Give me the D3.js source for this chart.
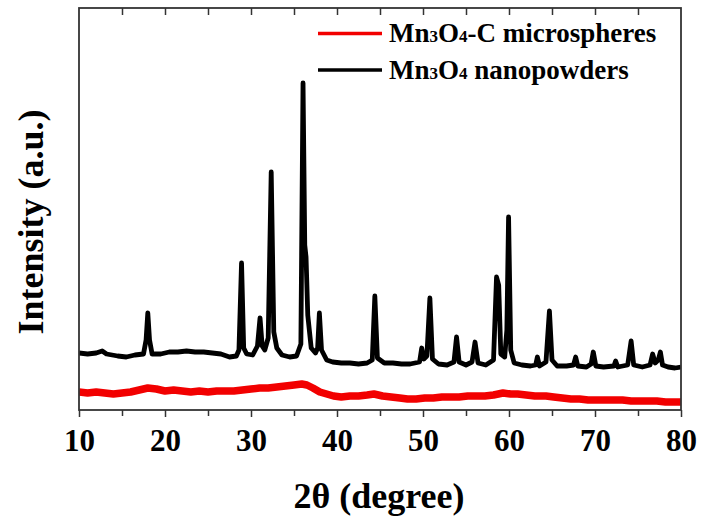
<!DOCTYPE html>
<html>
<head>
<meta charset="utf-8">
<script src="https://cdn.jsdelivr.net/npm/d3@7"></script>
<style>
  html, body { margin: 0; padding: 0; background: #fff; }
  svg text { font-family: "Liberation Serif", "DejaVu Serif", serif !important; font-weight: bold; }
</style>
</head>
<body>
<div id="xrd"></div>
<script>
// tick values
const xTicks = [10, 20, 30, 40, 50, 60, 70, 80];
const xMinorTicks = [15, 25, 35, 45, 55, 65, 75];
const xTopTicks = [15, 20, 25, 30, 35, 40, 45, 50, 55, 60, 65, 70, 75];

// series names / colours (legend order)
const seriesNames = ["Mn3O4-C microspheres", "Mn3O4 nanopowders"];
const seriesColors = ["#f20000", "#000000"];

// [2theta, intensity (a.u.)]
const microspheres = [
  [10, 18], [11, 17], [12, 18], [13, 17], [14, 16], [15, 17], [16, 18], [17, 20],
  [18, 22], [19, 21], [20, 19], [21, 20], [22, 19], [23, 18], [24, 19], [25, 18],
  [26, 19], [27, 19], [28, 19], [29, 20], [30, 21], [31, 22], [32, 22], [33, 23],
  [34, 24], [35, 25], [35.9, 26], [36.5, 25], [37.2, 22], [38.0, 18], [38.8, 16],
  [39.6, 14], [40.5, 13], [41.5, 14], [42.5, 14], [43.5, 15], [44.3, 16], [45.3, 14],
  [46.3, 13], [47.3, 12], [48.2, 11], [49.2, 11], [50.2, 12], [51.2, 12], [52.2, 13],
  [53.2, 13], [54.2, 13], [55.2, 14], [56.2, 14], [57.2, 14], [58.2, 15], [59.3, 17],
  [60.2, 16], [61.0, 16], [62.0, 15], [63.0, 14], [64.3, 14], [65.2, 13], [66.2, 12],
  [67.2, 11], [68.2, 11], [69.2, 10], [70.2, 10], [71.2, 10], [72.2, 10], [73.2, 10],
  [74.2, 9], [75.2, 9], [76.2, 9], [77.2, 9], [78.2, 8], [79.2, 8], [80, 8]
];

const nanopowders = [
  [10, 57], [11, 56], [12, 57], [12.7, 59], [13.2, 56], [14.5, 54], [15.5, 53],
  [16.5, 55], [17.5, 56], [17.8, 70], [18.0, 97], [18.2, 70], [18.5, 56], [19.5, 56],
  [20.5, 58], [21.5, 58], [22.5, 59], [23.5, 58], [24.5, 58], [25.5, 57], [26.5, 56],
  [27.5, 53], [28.3, 54], [28.6, 60], [28.9, 147], [29.15, 62], [29.5, 56], [30.2, 55],
  [30.75, 64], [31.05, 92], [31.3, 64], [31.6, 60], [32.0, 72], [32.35, 238], [32.65, 78],
  [33.0, 62], [33.6, 55], [34.5, 53], [35.3, 54], [35.8, 66], [36.05, 327], [36.25, 165],
  [36.4, 153], [36.6, 95], [37.0, 62], [37.5, 57], [37.75, 62], [37.95, 97], [38.2, 60],
  [38.8, 50], [39.5, 48], [40.5, 47], [41.5, 47], [42.5, 46], [43.5, 47], [44.1, 50],
  [44.4, 114], [44.7, 52], [45.5, 47], [46.5, 47], [47.5, 46], [48.5, 46], [49.6, 48],
  [49.85, 62], [50.1, 51], [50.45, 54], [50.8, 112], [51.1, 51], [51.8, 46], [52.8, 45],
  [53.6, 48], [53.9, 73], [54.2, 48], [55.0, 45], [55.7, 48], [56.05, 68], [56.4, 47],
  [57.3, 45], [58.2, 50], [58.55, 133], [58.8, 125], [59.05, 56], [59.5, 53], [59.75, 80],
  [59.95, 193], [60.2, 60], [60.6, 47], [61.5, 45], [62.5, 44], [63.1, 45], [63.3, 53],
  [63.55, 44], [64.3, 48], [64.7, 99], [65.0, 50], [65.6, 44], [66.7, 44], [67.5, 45],
  [67.75, 53], [68.0, 44], [69.0, 43], [69.55, 46], [69.8, 58], [70.1, 44], [71.0, 43],
  [72.2, 44], [72.4, 49], [72.65, 43], [73.8, 45], [74.2, 69], [74.5, 45], [75.5, 43],
  [76.4, 45], [76.7, 56], [77.0, 47], [77.35, 50], [77.6, 58], [77.85, 45], [78.5, 43],
  [79.3, 42], [80, 43]
];

(function () {
  const selector = "#xrd";
  const width = 706, height = 526;
  const margin = { top: 8, right: 25, bottom: 116, left: 79 };
  const innerWidth = width - margin.left - margin.right;
  const innerHeight = height - margin.top - margin.bottom;
  const serif = "'Liberation Serif', 'DejaVu Serif', serif";

  const svg = d3.select(selector)
    .append("svg")
    .attr("width", width)
    .attr("height", height)
    .attr("viewBox", `0 0 ${width} ${height}`)
    .attr("font-family", serif)
    .attr("font-weight", "bold");

  const g = svg.append("g")
    .attr("transform", `translate(${margin.left},${margin.top})`);

  const x = d3.scaleLinear().domain([10, 80]).range([0, innerWidth]);
  const y = d3.scaleLinear().domain([0, 402]).range([innerHeight, 0]);

  g.append("clipPath")
    .attr("id", "plot-clip")
    .append("rect")
    .attr("width", innerWidth)
    .attr("height", innerHeight);

  const line = d3.line()
    .x(d => x(d[0]))
    .y(d => y(d[1]));

  const series = [microspheres, nanopowders];
  const strokeWidths = [7.5, 4.8];

  g.append("g")
    .attr("clip-path", "url(#plot-clip)")
    .selectAll("path")
    .data(series)
    .join("path")
    .attr("d", line)
    .attr("fill", "none")
    .attr("stroke", (d, i) => seriesColors[i])
    .attr("stroke-width", (d, i) => strokeWidths[i])
    .attr("stroke-linejoin", "round");

  // bottom axis: major + minor ticks, pointing out
  const bottom = g.append("g")
    .attr("transform", `translate(0,${innerHeight})`)
    .call(d3.axisBottom(x).tickValues(xTicks).tickSize(7).tickPadding(12).tickFormat(d3.format("d")));
  bottom.attr("font-family", serif).attr("font-size", 31);
  bottom.selectAll("text")
    .attr("font-family", serif)
    .attr("font-weight", "bold")
    .attr("fill", "#000");

  g.append("g")
    .attr("transform", `translate(0,${innerHeight})`)
    .call(d3.axisBottom(x).tickValues(xMinorTicks).tickSize(6).tickFormat(""));

  // top ticks point into the plot
  g.append("g")
    .call(d3.axisTop(x).tickValues(xTopTicks).tickSize(-7).tickFormat(""));

  g.selectAll(".domain").remove();
  g.selectAll(".tick line").attr("stroke", "#333").attr("stroke-width", 1.5);

  g.append("rect")
    .attr("width", innerWidth)
    .attr("height", innerHeight)
    .attr("fill", "none")
    .attr("stroke", "#333")
    .attr("stroke-width", 1.8);

  // axis titles
  svg.append("text")
    .attr("x", 379)
    .attr("y", 508)
    .attr("text-anchor", "middle")
    .attr("font-family", serif)
    .attr("font-size", 36)
    .text("2θ (degree)");

  svg.append("text")
    .attr("transform", "rotate(-90)")
    .attr("x", -222)
    .attr("y", 43)
    .attr("text-anchor", "middle")
    .attr("font-family", serif)
    .attr("font-size", 36)
    .text("Intensity (a.u.)");

  // legend
  const legend = svg.append("g").attr("transform", "translate(318,33.5)");
  const rows = legend.selectAll("g")
    .data(seriesNames)
    .join("g")
    .attr("transform", (d, i) => `translate(0,${i * 36.5})`);

  rows.append("line")
    .attr("x1", 0).attr("x2", 64)
    .attr("stroke", (d, i) => seriesColors[i])
    .attr("stroke-width", 3.5);

  rows.append("text")
    .attr("x", 71)
    .attr("y", 8.5)
    .attr("font-family", serif)
    .attr("font-size", 27)
    .each(function (d) {
      const t = d3.select(this);
      d.split(/(\d)/).filter(s => s.length).forEach(part => {
        const span = t.append("tspan").text(part);
        if (/^\d$/.test(part)) span.attr("font-size", 17);
      });
    });
})();
</script>
</body>
</html>
